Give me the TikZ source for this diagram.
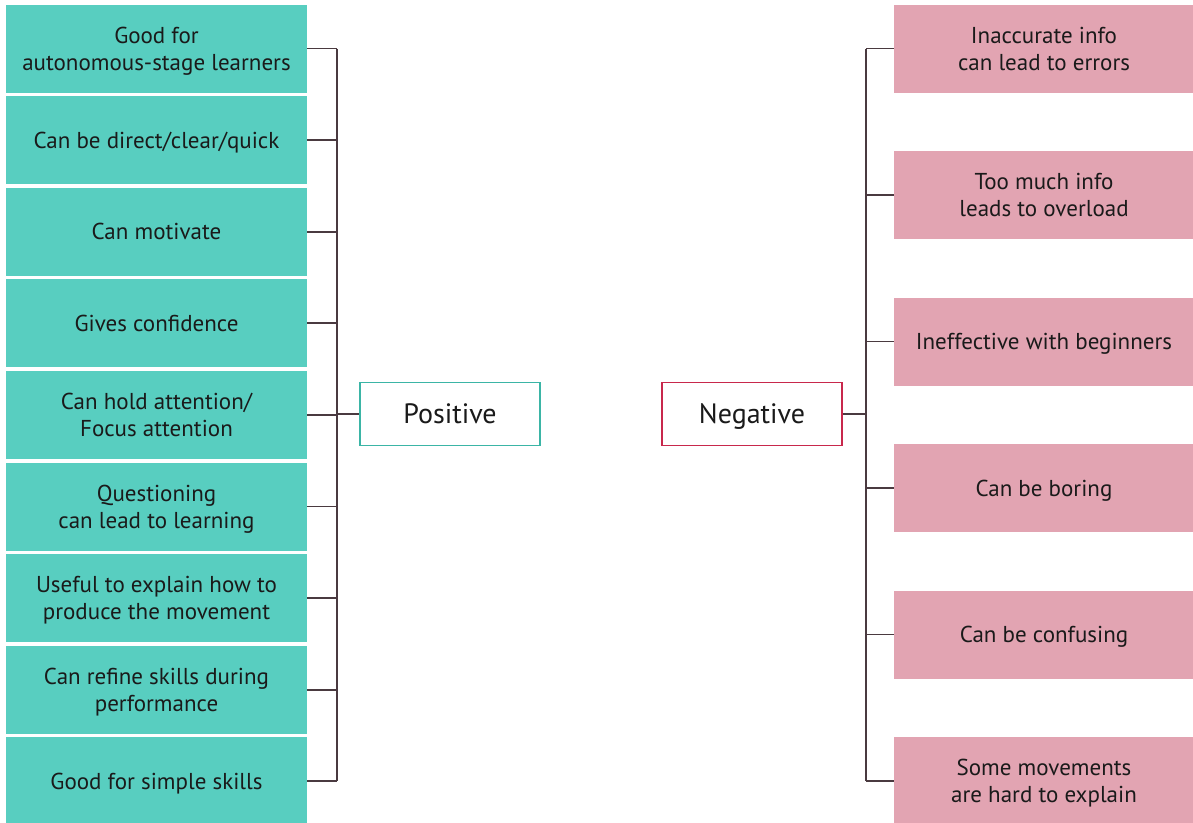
\documentclass[tikz,border=0pt]{standalone}
\usepackage{fontspec}
\setmainfont{PT Sans}
\definecolor{tealfill}{HTML}{58CEC0}
\definecolor{tealedge}{HTML}{3BB5A6}
\definecolor{pinkfill}{HTML}{E2A4B2}
\definecolor{crimsonedge}{HTML}{C8284C}
\definecolor{linkgray}{HTML}{4A3A40}
\definecolor{inkblack}{HTML}{1A1A1A}
\begin{document}
\begin{tikzpicture}[x=1pt,y=-1pt,
  posbox/.style={fill=tealfill,minimum width=301pt,minimum height=88pt,inner sep=0pt,
    align=center,text=inkblack,font=\fontsize{23}{27}\selectfont,text depth=0pt},
  negbox/.style={posbox,fill=pinkfill,minimum width=300pt},
  headbox/.style={draw,line width=1.6pt,fill=white,minimum width=180pt,minimum height=63pt,
    text=inkblack,font=\fontsize{28}{32}\selectfont,text depth=0pt},
  link/.style={draw=linkgray,line width=1.8pt}]
\useasboundingbox (0,0) rectangle (1193,822);
%左边
\foreach \t [count=\i] in {{Good for\\autonomous-stage learners},{Can be direct/clear/quick},
  {Can motivate},{Gives confidence},{Can hold attention/\\Focus attention},
  {Questioning\\can lead to learning},{Useful to explain how to\\produce the movement},
  {Can refine skills during\\performance},{Good for simple skills}}
  \node[posbox] (pos\i) at (156.5,{48.5+91.6*(\i-1)}) {\t};
\node[headbox,draw=tealedge] (positive) at (450,414) {Positive};
\coordinate (lb) at (337,414);
\foreach \i in {1,...,9}
  \draw[link] (pos\i.east) -- (pos\i.east -| lb);
\draw[link] (pos1.east -| lb) -- (pos9.east -| lb);
\draw[link] (lb) -- (positive.west);
%右边
\foreach \t [count=\i] in {{Inaccurate info\\can lead to errors},{Too much info\\leads to overload},
  {Ineffective with beginners},{Can be boring},{Can be confusing},
  {Some movements\\are hard to explain}}
  \node[negbox] (neg\i) at (1044,{48.5+146.5*(\i-1)}) {\t};
\node[headbox,draw=crimsonedge] (negative) at (752,414) {Negative};
\coordinate (rb) at (866,414);
\foreach \i in {1,...,6}
  \draw[link] (neg\i.west) -- (neg\i.west -| rb);
\draw[link] (neg1.west -| rb) -- (neg6.west -| rb);
\draw[link] (negative.east) -- (rb);
\end{tikzpicture}
\end{document}
